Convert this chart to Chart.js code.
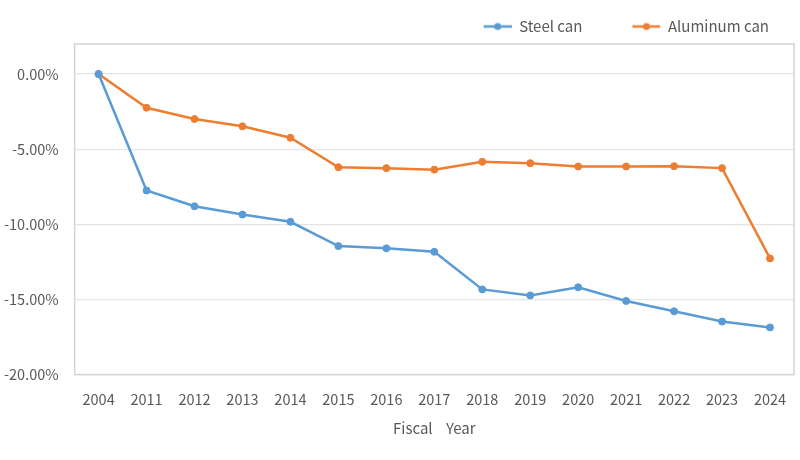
<!DOCTYPE html>
<html>
<head>
<meta charset="utf-8">
<script src="https://cdn.jsdelivr.net/npm/chart.js@4.4.1/dist/chart.umd.min.js"></script>
<style>
  html, body { margin: 0; padding: 0; background: #fff; }
  #wrap { width: 800px; height: 460px; }
</style>
</head>
<body>
<div id="wrap"><canvas id="myChart"></canvas></div>
<script>
const years = ['2004', '2011', '2012', '2013', '2014', '2015', '2016', '2017', '2018', '2019', '2020', '2021', '2022', '2023', '2024']

const steelCan = [0, -7.75, -8.8, -9.35, -9.83, -11.45, -11.6, -11.83, -14.33, -14.73, -14.19, -15.1, -15.79, -16.47, -16.86]
const aluminumCan = [0, -2.24, -2.99, -3.48, -4.24, -6.2, -6.26, -6.36, -5.84, -5.93, -6.15, -6.15, -6.13, -6.26, -12.27]

const yTicks = [-20, -15, -10, -5, 0]

const BLUE = '#5B9BD5'
const ORANGE = '#ED7D31'
const FONT = "'Noto Sans CJK SC', 'Noto Sans', sans-serif"

// line-with-dot marker for the legend, blank space on the left keeps items apart
const MARK_W = 64
function legendMarker(color) {
  const c = document.createElement('canvas')
  c.width = MARK_W
  c.height = 10
  const g = c.getContext('2d')
  const x0 = MARK_W - 28
  g.strokeStyle = color
  g.lineWidth = 2.5
  g.beginPath()
  g.moveTo(x0, 5)
  g.lineTo(MARK_W, 5)
  g.stroke()
  g.fillStyle = color
  g.beginPath()
  g.arc(x0 + 14, 5, 3.5, 0, Math.PI * 2)
  g.fill()
  return c
}
const markers = [legendMarker(BLUE), legendMarker(ORANGE)]

const plotBorder = {
  id: 'plotBorder',
  afterLayout(chart) {
    // pull the legend in a bit from the right edge
    if (chart.legend) chart.legend.right -= 11
  },
  beforeDatasetsDraw(chart) {
    const { ctx, chartArea: a } = chart
    ctx.save()
    ctx.strokeStyle = '#d4d4d4'
    ctx.lineWidth = 1.5
    ctx.strokeRect(a.left, a.top, a.right - a.left, a.bottom - a.top)
    ctx.restore()
  }
}

const ctx = document.getElementById('myChart').getContext('2d')

const data = {
  labels: years,
  datasets: [{
    label: 'Steel can',
    data: steelCan,
    borderColor: BLUE,
    backgroundColor: BLUE
  }, {
    label: 'Aluminum can',
    data: aluminumCan,
    borderColor: ORANGE,
    backgroundColor: ORANGE
  }]
}

const config = {
  type: 'line',
  data,
  plugins: [plotBorder],
  options: {
    responsive: true,
    maintainAspectRatio: false,
    animation: false,
    layout: { padding: { top: 5, right: 6, left: -12, bottom: 19 } },
    elements: {
      line: { borderWidth: 2.5, tension: 0 },
      point: { radius: 3.5, pointStyle: 'circle', hoverRadius: 4 }
    },
    plugins: {
      legend: {
        position: 'top',
        align: 'end',
        labels: {
          usePointStyle: true,
          pointStyleWidth: MARK_W,
          color: '#595959',
          font: { family: FONT, size: 15 },
          padding: 14,
          generateLabels: function(chart) {
            const items = Chart.defaults.plugins.legend.labels.generateLabels(chart)
            items.forEach((it, i) => { it.pointStyle = markers[i] })
            return items
          }
        }
      },
      tooltip: { enabled: false }
    },
    scales: {
      x: {
        offset: true,
        grid: { display: false },
        border: { display: false },
        ticks: { color: '#595959', font: { family: FONT, size: 14.5 }, padding: 8, maxRotation: 0 },
        title: {
          display: true,
          text: 'Fiscal    Year',
          color: '#595959',
          font: { family: FONT, size: 15 },
          padding: { top: 3 }
        }
      },
      y: {
        min: -20,
        max: 2,
        afterBuildTicks: function(scale) {
          scale.ticks = yTicks.map(v => ({ value: v }))
        },
        grid: { color: '#e4e4e4', lineWidth: 1.2, drawTicks: false },
        border: { display: false },
        ticks: {
          color: '#595959',
          font: { family: FONT, size: 14.5 },
          padding: 16,
          callback: function(value) {
            return value.toFixed(2) + '%'
          }
        }
      }
    }
  }
}

const myChart = new Chart(ctx, config)
</script>
</body>
</html>
